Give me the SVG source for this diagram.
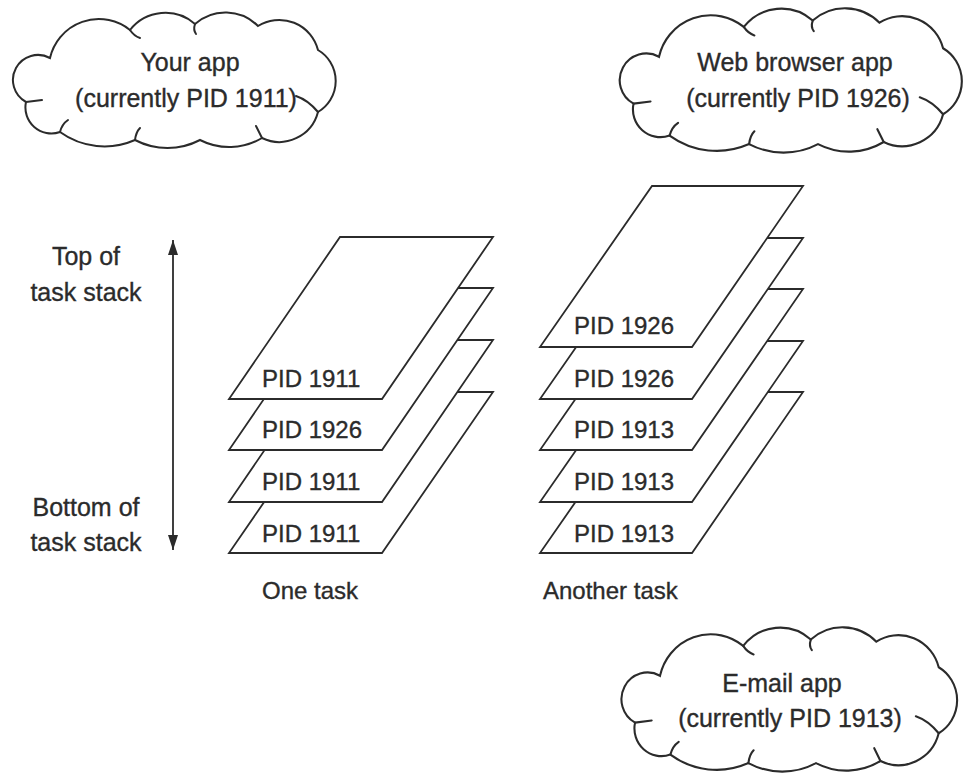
<svg xmlns="http://www.w3.org/2000/svg" width="966" height="774" viewBox="0 0 966 774">
<style>
.t{font-family:"Liberation Sans",Arial,sans-serif;fill:#2b2b2b;stroke:#2b2b2b;stroke-width:0.35;font-size:24px}
.c{text-anchor:middle;font-size:25px}
.sheet{fill:#fff;stroke:#2b2b2b;stroke-width:1.8;stroke-linejoin:miter}
.cloud{fill:#fff;stroke:#2b2b2b;stroke-width:2}
.crease{fill:none;stroke:#2b2b2b;stroke-width:2;stroke-linecap:round}
</style>
<defs>
<path id="cloudShape" d="M 26,102 A 25,25 0 0 1 50,58 A 50,50 0 0 1 130,30 A 45,45 0 0 1 195,24 A 46,46 0 0 1 258,26 A 40,40 0 0 1 318,50 A 36,36 0 0 1 318,112 A 40,40 0 0 1 262,138 A 64,64 0 0 1 200,140 A 70,70 0 0 1 135,140 A 76,76 0 0 1 60,132 A 26,26 0 0 1 26,102 Z"/>
<g id="cloudCreases">
<path d="M 26,102 L 42,100"/>
<path d="M 130,30 Q 134,36 140,38"/>
<path d="M 195,24 Q 193,30 196,34"/>
<path d="M 318,112 Q 308,100 296,96"/>
<path d="M 262,138 Q 258,130 256,126"/>
<path d="M 135,140 Q 136,132 140,128"/>
<path d="M 60,132 Q 62,124 68,120"/>
</g>
<marker id="ah" markerWidth="16" markerHeight="12" refX="15" refY="6" orient="auto-start-reverse" markerUnits="userSpaceOnUse" viewBox="0 0 16 12">
<path d="M0,1 L15,6 L0,11 Z" fill="#2b2b2b"/>
</marker>
</defs>

<g id="cloud-your-app">
<use href="#cloudShape" class="cloud"/>
<use href="#cloudCreases" class="crease"/>
<text class="t c" x="190" y="71">Your app</text>
<text class="t c" x="186" y="107">(currently PID 1911)</text>
</g>

<g id="cloud-web-browser">
<use href="#cloudShape" class="cloud" transform="translate(606,-5) scale(1.06,1.065)"/>
<use href="#cloudCreases" class="crease" transform="translate(606,-5) scale(1.06,1.065)"/>
<text class="t c" x="795" y="71">Web browser app</text>
<text class="t c" x="798" y="107">(currently PID 1926)</text>
</g>

<g id="cloud-email">
<use href="#cloudShape" class="cloud" transform="translate(608,614) scale(1.04,1.065)"/>
<use href="#cloudCreases" class="crease" transform="translate(608,614) scale(1.04,1.065)"/>
<text class="t c" x="782" y="692">E-mail app</text>
<text class="t c" x="790" y="727">(currently PID 1913)</text>
</g>

<g id="stack-axis">
<text class="t c" x="86" y="265">Top of</text>
<text class="t c" x="86" y="301">task stack</text>
<text class="t c" x="86" y="516">Bottom of</text>
<text class="t c" x="86" y="551">task stack</text>
</g>

<g id="connectors">
<line x1="173" y1="240" x2="173" y2="550" stroke="#2b2b2b" stroke-width="1.8" marker-start="url(#ah)" marker-end="url(#ah)"/>
</g>

<g id="one-task">
<g id="one-task-4"><path class="sheet" d="M340,392 H493 L382,553 H229 Z"/><text class="t" x="262" y="542">PID 1911</text></g>
<g id="one-task-3"><path class="sheet" d="M340,340 H493 L382,502 H229 Z"/><text class="t" x="262" y="490">PID 1911</text></g>
<g id="one-task-2"><path class="sheet" d="M340,288 H493 L382,450 H229 Z"/><text class="t" x="262" y="438">PID 1926</text></g>
<g id="one-task-1"><path class="sheet" d="M340,237 H493 L382,399 H229 Z"/><text class="t" x="262" y="387">PID 1911</text></g>
<text class="t" x="262" y="599">One task</text>
</g>

<g id="another-task">
<g id="another-task-5"><path class="sheet" d="M652,392 H803 L692,553 H540 Z"/><text class="t" x="574" y="542">PID 1913</text></g>
<g id="another-task-4"><path class="sheet" d="M652,341 H803 L692,502 H540 Z"/><text class="t" x="574" y="490">PID 1913</text></g>
<g id="another-task-3"><path class="sheet" d="M652,289 H803 L692,450 H540 Z"/><text class="t" x="574" y="438">PID 1913</text></g>
<g id="another-task-2"><path class="sheet" d="M652,238 H803 L692,399 H540 Z"/><text class="t" x="574" y="387">PID 1926</text></g>
<g id="another-task-1"><path class="sheet" d="M652,186 H803 L692,347 H540 Z"/><text class="t" x="574" y="334">PID 1926</text></g>
<text class="t" x="543" y="599">Another task</text>
</g>
</svg>
